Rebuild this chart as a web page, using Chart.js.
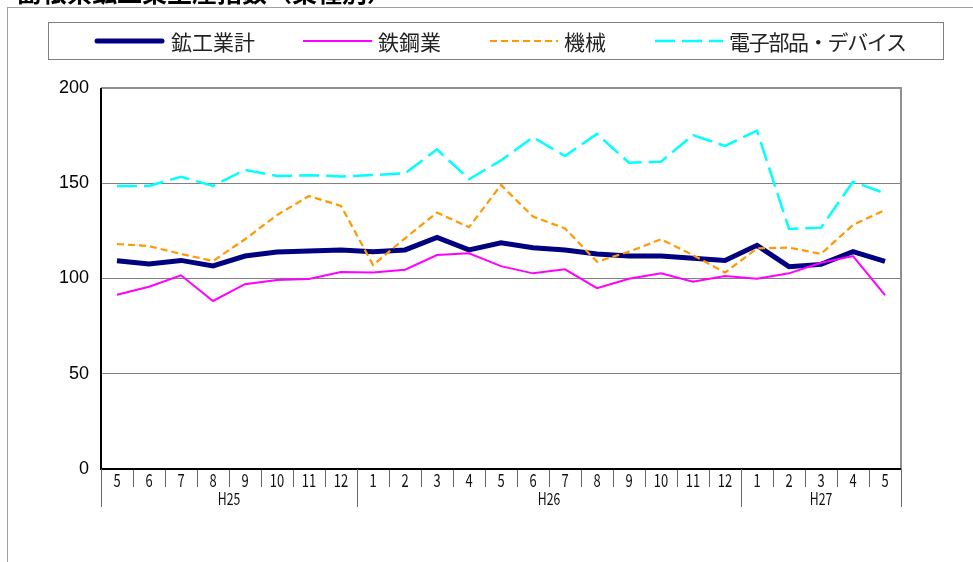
<!DOCTYPE html>
<html>
<head>
<meta charset="utf-8">
<script src="https://cdn.jsdelivr.net/npm/chart.js@4/dist/chart.umd.min.js"></script>
<style>
    body { margin: 0; background: #fff; }
    .wrap { position: relative; width: 973px; height: 562px; overflow: hidden; font-family: "Noto Sans CJK JP", sans-serif; }
    .frame { position: absolute; left: 7px; top: 7px; width: 980px; height: 600px; border-left: 1px solid #a0a0a0; border-top: 1px solid #a0a0a0; }
    .title { position: absolute; left: 17px; top: -21px; font-size: 25px; line-height: 25px; font-weight: bold; color: #000; white-space: nowrap; }
    .legend { position: absolute; left: 48px; top: 22px; width: 894px; height: 36px; border: 1px solid #808080; background: #fff; }
    .legend .item { position: absolute; top: 0; height: 36px; display: flex; align-items: center; font-size: 21px; color: #222; white-space: nowrap; }
    .legend svg { margin-right: 6px; }
    canvas { position: absolute; left: 0; top: 0; }
</style>
</head>
<body>
<div class="wrap">
    <canvas id="myChart" width="973" height="562"></canvas>
    <div class="frame"></div>
    <div class="title">島根県鉱工業生産指数（業種別）</div>
    <div class="legend" id="legend"></div>
</div>
<script>
const months = ['5', '6', '7', '8', '9', '10', '11', '12', '1', '2', '3', '4', '5', '6', '7', '8', '9', '10', '11', '12', '1', '2', '3', '4', '5'];
const years = [
    { label: 'H25', from: 0, to: 7 },
    { label: 'H26', from: 8, to: 19 },
    { label: 'H27', from: 20, to: 24 },
];
const yTicks = [0, 50, 100, 150, 200];

const mining = [109.3, 107.6, 109.5, 106.6, 111.8, 113.9, 114.4, 115.0, 114.1, 115.0, 121.5, 115.0, 118.7,
    116.2, 115.0, 112.9, 111.8, 111.8, 110.6, 109.5, 117.4, 106.2, 107.4, 114.1, 109.0];
const steel = [91.5, 95.7, 101.7, 88.2, 97.0, 99.2, 99.7, 103.4, 103.2, 104.6, 112.3, 113.2, 106.5,
    102.7, 104.8, 94.9, 99.9, 102.7, 98.3, 101.3, 99.9, 102.7, 108.3, 111.8, 91.3];
const machinery = [118.1, 117.0, 112.9, 109.2, 120.6, 133.3, 143.3, 138.1, 107.1, 121.1, 134.6, 126.9, 149.1,
    132.5, 126.3, 108.8, 114.1, 120.6, 112.3, 103.1, 115.8, 116.2, 112.9, 128.1, 136.0];
const electronics = [148.6, 148.6, 153.4, 148.6, 157.0, 153.8, 154.2, 153.6, 154.3, 155.2, 167.8, 152.1, 162.0,
    174.1, 164.3, 175.9, 160.8, 161.3, 175.3, 169.6, 177.6, 126.0, 126.7, 150.8, 144.7];

const series = [
    { label: '鉱工業計', data: mining, color: '#000080', width: 5, dash: [], x: 45, lineLen: 71 },
    { label: '鉄鋼業', data: steel, color: '#ff00ff', width: 2, dash: [], x: 254, lineLen: 69 },
    { label: '機械', data: machinery, color: '#ff9900', width: 2.2, dash: [7, 4], x: 441, lineLen: 68 },
    { label: '電子部品・デバイス', data: electronics, color: '#00ffff', width: 2.5, dash: [20, 7], x: 606, lineLen: 68 },
];

// legend (HTML, sample lines as svg)
const legend = document.getElementById('legend');
series.forEach((s) => {
    const item = document.createElement('div');
    item.className = 'item';
    item.style.left = s.x + 'px';
    const dash = s.dash.length ? `stroke-dasharray="${s.dash.join(' ')}"` : '';
    const cap = s.width > 3 ? 'round' : 'butt';
    item.innerHTML = `<svg width="${s.lineLen}" height="10"><line x1="${s.width > 3 ? 3 : 0}" y1="5" x2="${s.lineLen - (s.width > 3 ? 3 : 0)}" y2="5" stroke="${s.color}" stroke-width="${s.width}" stroke-linecap="${cap}" ${dash}/></svg><span>${s.label}</span>`;
    legend.appendChild(item);
});
legend.lastChild.querySelector('span').style.letterSpacing = '-1.3px';

function narrowText(ctx, text, x, y, sx) {
    ctx.save();
    ctx.translate(x, y);
    ctx.scale(sx, 1);
    ctx.fillText(text, 0, 0);
    ctx.restore();
}

const xAxisDecor = {
    id: 'xAxisDecor',
    afterDraw(chart) {
        const { ctx, chartArea } = chart;
        const x = chart.scales.x;
        const bottom = chartArea.bottom;
        const edge = (i) => {
            if (i <= 0) return chartArea.left;
            if (i >= months.length) return chartArea.right;
            return (x.getPixelForValue(i - 1) + x.getPixelForValue(i)) / 2;
        };
        ctx.save();
        // plot frame
        ctx.strokeStyle = '#909090';
        ctx.lineWidth = 2;
        ctx.beginPath();
        ctx.moveTo(chartArea.left, chartArea.top);
        ctx.lineTo(chartArea.right, chartArea.top);
        ctx.lineTo(chartArea.right, bottom);
        ctx.stroke();
        ctx.strokeStyle = '#000';
        ctx.beginPath();
        ctx.moveTo(chartArea.left, chartArea.top);
        ctx.lineTo(chartArea.left, bottom);
        ctx.lineTo(chartArea.right, bottom);
        ctx.stroke();
        ctx.fillStyle = '#111';
        ctx.font = '18px "Noto Sans CJK JP"';
        ctx.textAlign = 'center';
        ctx.textBaseline = 'middle';
        // month labels
        months.forEach((m, i) => {
            narrowText(ctx, m, x.getPixelForValue(i), bottom + 11, 0.72);
        });
        // year groups
        ctx.font = '17px "Noto Sans CJK JP"';
        ctx.lineWidth = 1;
        ctx.strokeStyle = '#666';
        years.forEach((y) => {
            const x0 = edge(y.from);
            const x1 = edge(y.to + 1);
            [x0, x1].forEach((px) => {
                ctx.beginPath();
                ctx.moveTo(Math.round(px) + 0.5, bottom);
                ctx.lineTo(Math.round(px) + 0.5, bottom + 38);
                ctx.stroke();
            });
            narrowText(ctx, y.label, (x0 + x1) / 2, bottom + 30, 0.72);
        });
        ctx.restore();
    },
};

const ctx = document.getElementById('myChart').getContext('2d');
new Chart(ctx, {
    type: 'line',
    data: {
        labels: months,
        datasets: series.map((s) => ({
            label: s.label,
            data: s.data,
            borderColor: s.color,
            backgroundColor: s.color,
            borderWidth: s.width,
            borderDash: s.dash,
            pointRadius: 0,
            tension: 0,
            fill: false,
        })).reverse(),
    },
    options: {
        responsive: false,
        animation: false,
        layout: { padding: { left: 0, right: 72, top: 88, bottom: 75 } },
        plugins: {
            legend: { display: false },
            tooltip: { enabled: false },
        },
        scales: {
            x: {
                offset: true,
                border: { display: false },
                grid: { offset: true, drawOnChartArea: false, tickLength: 18, color: '#666', lineWidth: 1 },
                ticks: { display: false },
                afterFit: (axis) => { axis.height = 18; },
            },
            y: {
                min: 0,
                max: 200,
                afterBuildTicks: (axis) => { axis.ticks = yTicks.map((v) => ({ value: v })); },
                afterFit: (axis) => { axis.width = 101; },
                border: { display: false },
                grid: { color: '#808080', lineWidth: 1, drawTicks: false },
                ticks: { padding: 12, color: '#000', font: { family: 'Liberation Sans', size: 18 } },
            },
        },
    },
    plugins: [xAxisDecor],
});
</script>
</body>
</html>
